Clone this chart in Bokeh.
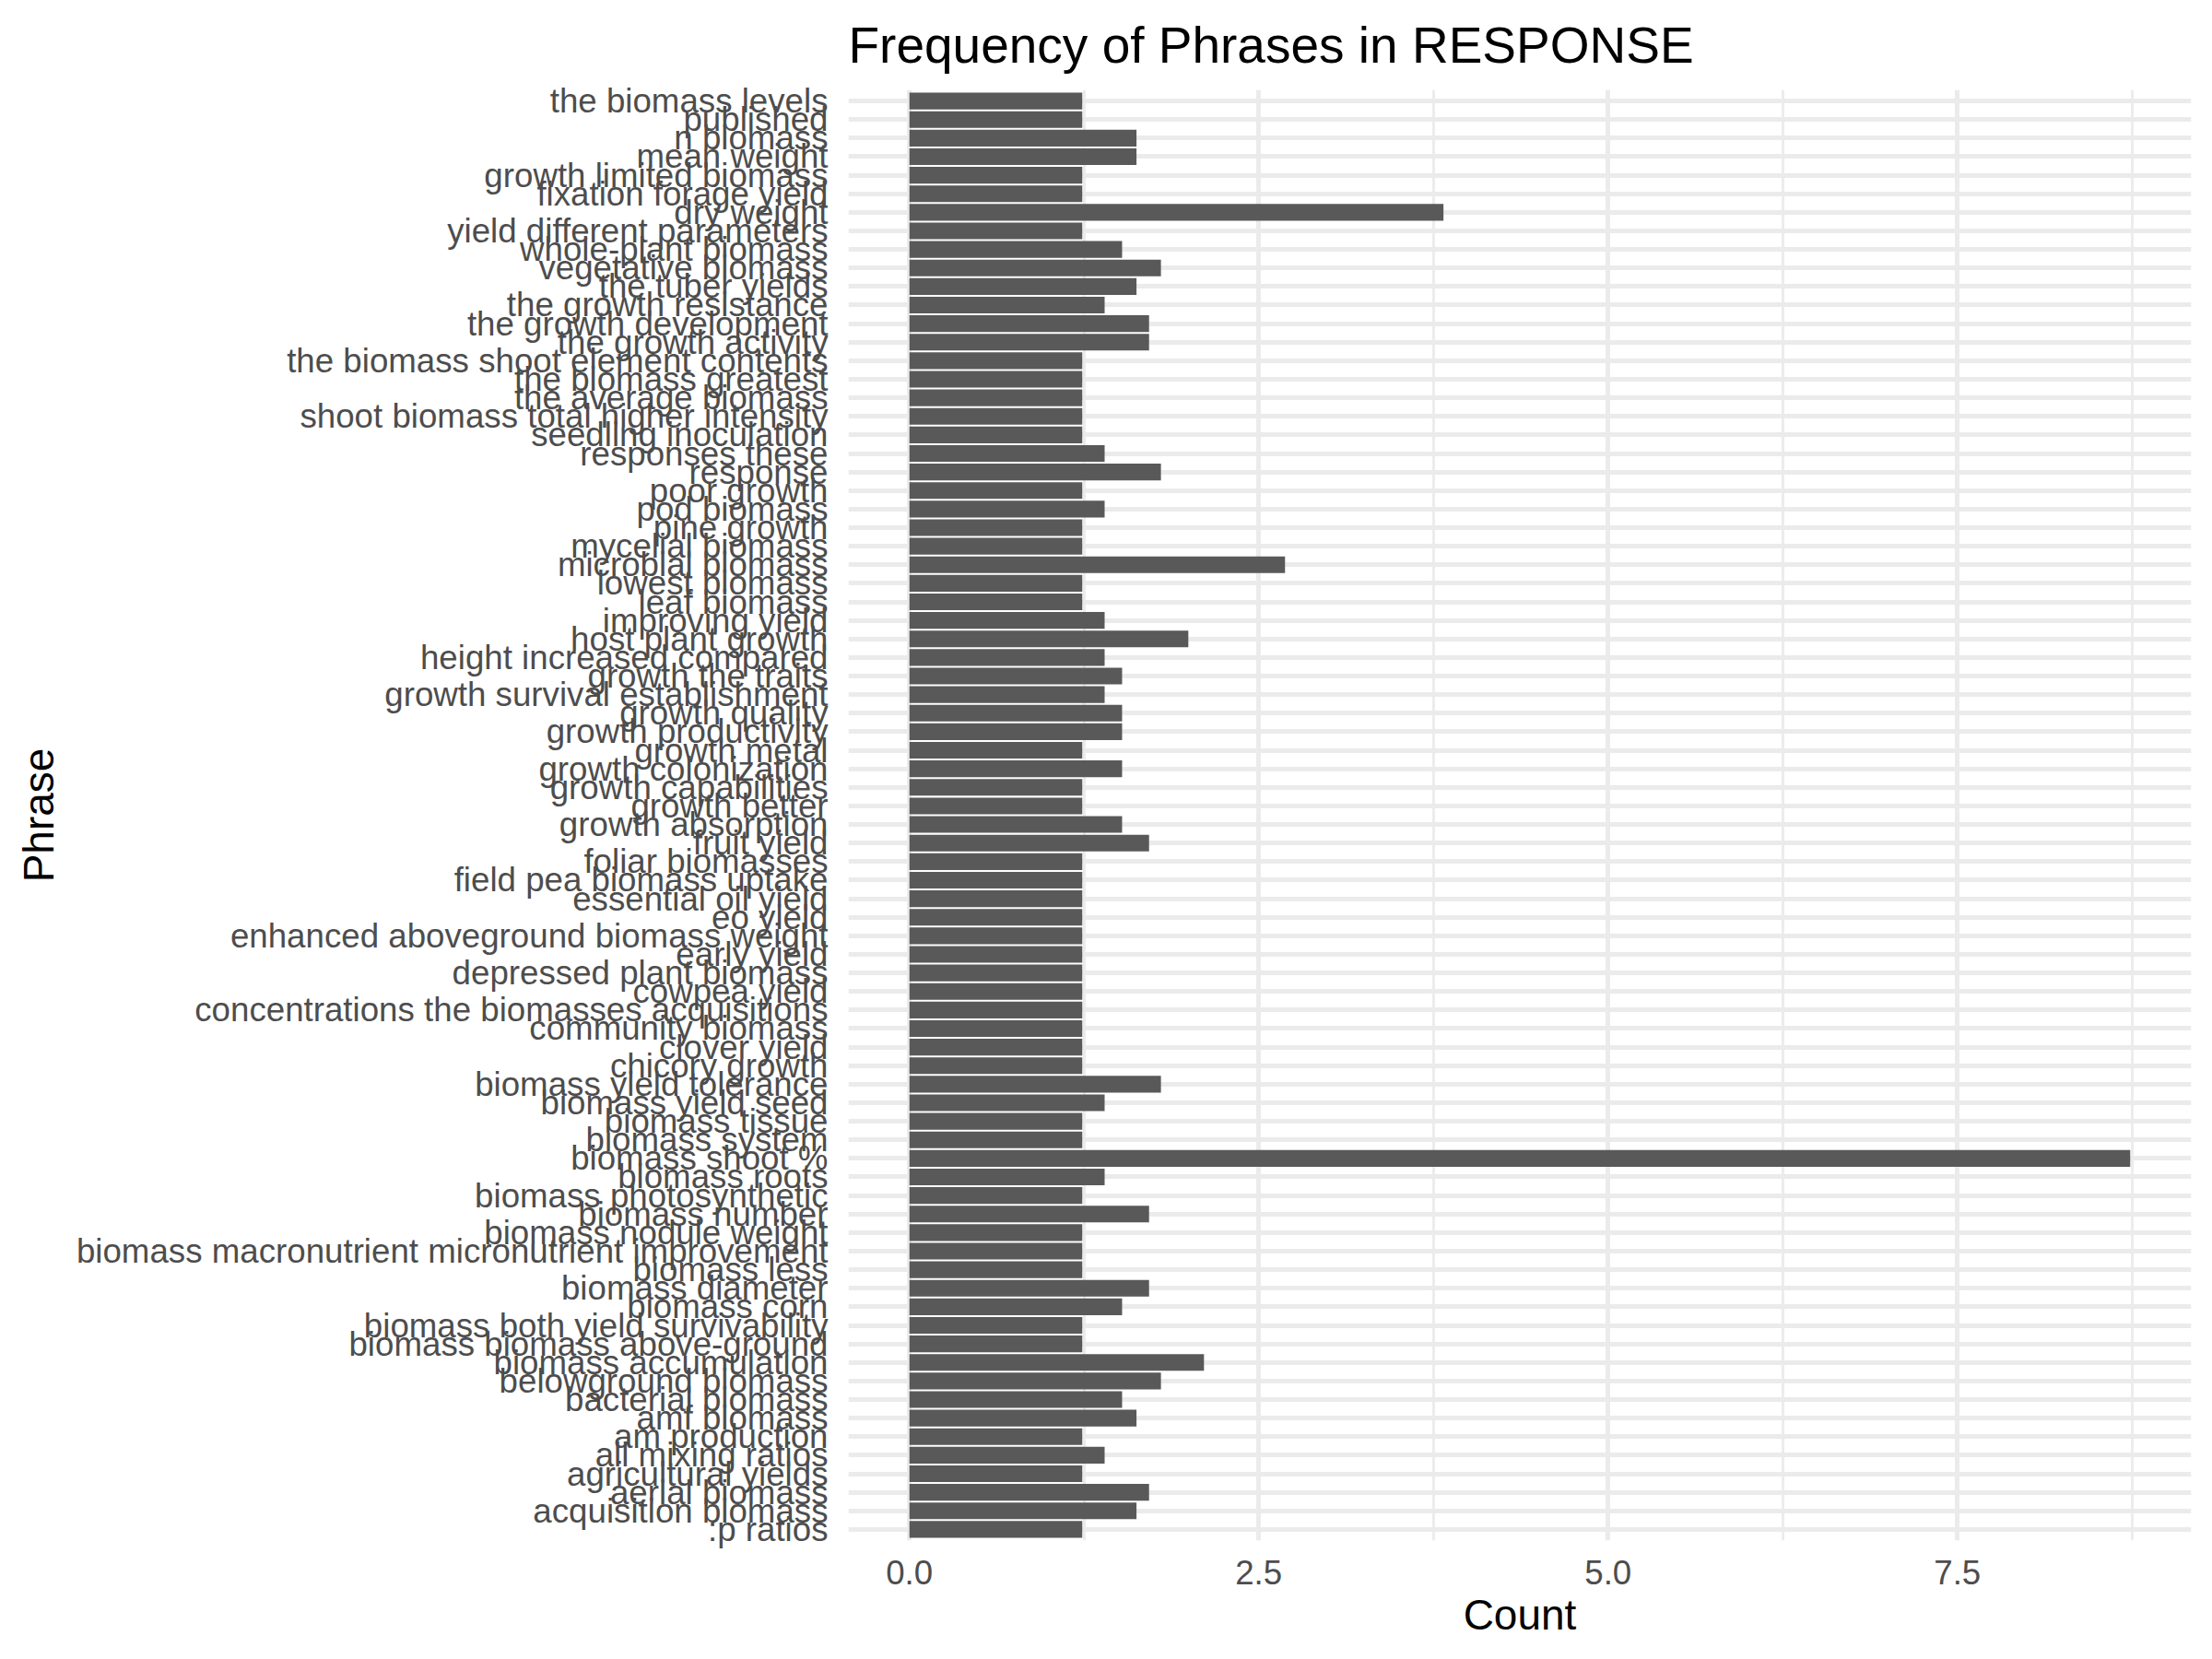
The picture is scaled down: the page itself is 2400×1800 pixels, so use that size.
from bokeh.plotting import figure
from bokeh.models import FactorRange, Range1d, FixedTicker, NumeralTickFormatter
from bokeh.embed import file_html
from bokeh.resources import INLINE

# Data (bottom to top, as drawn)
phrases = [
    ":p ratios", "acquisition biomass", "aerial biomass", "agricultural yields",
    "all mixing ratios", "am production", "amf biomass", "bacterial biomass",
    "belowground biomass", "biomass accumulation", "biomass biomass above-ground",
    "biomass both yield survivability", "biomass corn", "biomass diameter",
    "biomass less", "biomass macronutrient micronutrient improvement",
    "biomass nodule weight", "biomass number", "biomass photosynthetic",
    "biomass roots", "biomass shoot %", "biomass system", "biomass tissue",
    "biomass yield seed", "biomass yield tolerance", "chicory growth",
    "clover yield", "community biomass", "concentrations the biomasses acquisitions",
    "cowpea yield", "depressed plant biomass", "early yield",
    "enhanced aboveground biomass weight", "eo yield", "essential oil yield",
    "field pea biomass uptake", "foliar biomasses", "fruit yield",
    "growth absorption", "growth better", "growth capabilities",
    "growth colonization", "growth metal", "growth productivity",
    "growth quality", "growth survival establishment", "growth the traits",
    "height increased compared", "host plant growth", "improving yield",
    "leaf biomass", "lowest biomass", "microbial biomass", "mycelial biomass",
    "pine growth", "pod biomass", "poor growth", "response", "responses these",
    "seedling inoculation", "shoot biomass total higher intensity",
    "the average biomass", "the biomass greatest",
    "the biomass shoot element contents", "the growth activity",
    "the growth development", "the growth resistance", "the tuber yields",
    "vegetative biomass", "whole-plant biomass", "yield different parameters",
    "dry weight", "fixation forage yield", "growth limited biomass",
    "mean weight", "n biomass", "published", "the biomass levels",
]
counts = [
    1.237, 1.625, 1.715, 1.237,
    1.397, 1.237, 1.625, 1.522,
    1.800, 2.108, 1.237,
    1.237, 1.522, 1.715,
    1.237, 1.237,
    1.237, 1.715, 1.237,
    1.397, 8.737, 1.237, 1.237,
    1.397, 1.800, 1.237,
    1.237, 1.237, 1.237,
    1.237, 1.237, 1.237,
    1.237, 1.237, 1.237,
    1.237, 1.237, 1.715,
    1.522, 1.237, 1.237,
    1.522, 1.237, 1.522,
    1.522, 1.397, 1.522,
    1.397, 1.996, 1.397,
    1.237, 1.237, 2.688, 1.237,
    1.237, 1.397, 1.237, 1.800, 1.397,
    1.237, 1.237,
    1.237, 1.237,
    1.237, 1.715,
    1.715, 1.397, 1.625,
    1.800, 1.522, 1.237,
    3.822, 1.237, 1.237,
    1.625, 1.625, 1.237, 1.237,
]
x_ticks = [0, 2.5, 5, 7.5]
x_minor_ticks = [1.25, 3.75, 6.25, 8.75]

title_text = "Frequency of Phrases in RESPONSE"
x_title = "Count"
y_title = "Phrase"

FONT = "Liberation Sans"
GRID = "#EBEBEB"

xmax = max(counts)
x_start, x_end = -0.05 * xmax, 1.05 * xmax
p = figure(
    width=2400, height=1800,
    y_range=FactorRange(factors=phrases, range_padding=0.1, range_padding_units="absolute"),
    x_range=Range1d(x_start, x_end),
    output_backend="svg", toolbar_location=None,
    min_border_left=920, min_border_right=23, min_border_top=97, min_border_bottom=129,
    title=title_text,
)
p.background_fill_color = "white"
p.border_fill_color = "white"
p.outline_line_color = None

p.hbar(y=phrases, right=counts, left=0, height=0.9, fill_color="#595959", line_color=None)

# Title
p.title.text_font = FONT
p.title.text_font_size = "55px"
p.title.text_font_style = "normal"
p.title.text_color = "black"
p.title.align = "left"
p.title.vertical_align = "top"
p.title.standoff = 20
p.title.padding = dict(left=0, right=0, top=0, bottom=6)

# Axes
xa = p.xaxis[0]
xa.ticker = FixedTicker(ticks=x_ticks, minor_ticks=x_minor_ticks)
xa.formatter = NumeralTickFormatter(format="0.0")
xa.axis_label = x_title
for ax in (p.xaxis[0], p.yaxis[0]):
    ax.axis_line_color = None
    ax.major_tick_line_color = None
    ax.minor_tick_line_color = None
    ax.major_tick_out = 0
    ax.major_tick_in = 0
    ax.minor_tick_out = 0
    ax.minor_tick_in = 0
    ax.major_label_text_font = FONT
    ax.major_label_text_font_size = "36.7px"
    ax.major_label_text_color = "#4D4D4D"
    ax.axis_label_text_font = FONT
    ax.axis_label_text_font_size = "46px"
    ax.axis_label_text_font_style = "normal"
    ax.axis_label_text_color = "black"
xa.major_label_standoff = 21
xa.axis_label_standoff = 4

ya = p.yaxis[0]
ya.axis_label = y_title
ya.major_label_standoff = 22
ya.axis_label_standoff = 12

# Grid
p.xgrid.grid_line_color = GRID
p.xgrid.grid_line_width = 5
p.xgrid.minor_grid_line_color = GRID
p.xgrid.minor_grid_line_width = 2.8
p.ygrid.grid_line_color = GRID
p.ygrid.grid_line_width = 5

open("out.html", "w").write(file_html(p, INLINE))
